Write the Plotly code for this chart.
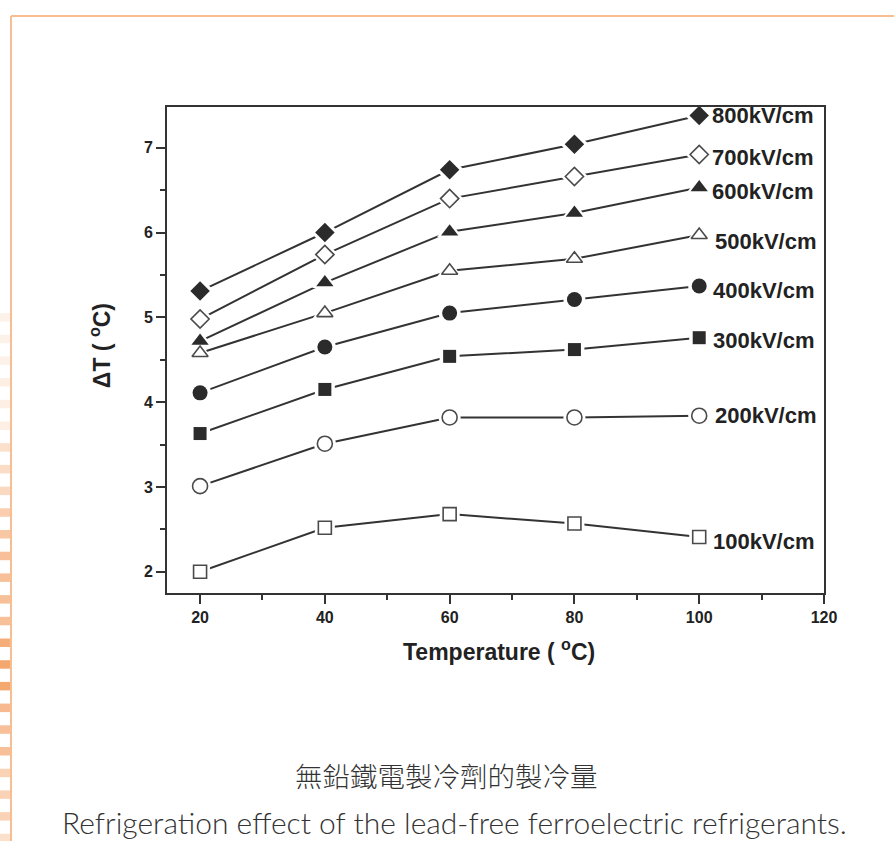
import plotly.graph_objects as go

# ---------------- data ----------------
temperature = [20, 40, 60, 80, 100]
field_labels = ["800kV/cm", "700kV/cm", "600kV/cm", "500kV/cm",
                "400kV/cm", "300kV/cm", "200kV/cm", "100kV/cm"]
dT_800 = [5.31, 6.00, 6.74, 7.04, 7.38]
dT_700 = [4.98, 5.74, 6.40, 6.66, 6.92]
dT_600 = [4.72, 5.41, 6.01, 6.23, 6.53]
dT_500 = [4.58, 5.05, 5.55, 5.69, 5.97]
dT_400 = [4.11, 4.65, 5.05, 5.21, 5.37]
dT_300 = [3.63, 4.15, 4.54, 4.62, 4.76]
dT_200 = [3.01, 3.51, 3.82, 3.82, 3.84]
dT_100 = [2.00, 2.52, 2.68, 2.57, 2.41]
series = [dT_800, dT_700, dT_600, dT_500, dT_400, dT_300, dT_200, dT_100]

x_ticks = [20, 40, 60, 80, 100, 120]
y_ticks = [2, 3, 4, 5, 6, 7]

# ---------------- styles ----------------
DARK = "#2b2b2b"
GRAY = "#4a4a4a"
styles = [
    dict(symbol="diamond", size=15, color=DARK, line=dict(color=DARK, width=0)),
    dict(symbol="diamond", size=14, color="white", line=dict(color=GRAY, width=1.6)),
    dict(symbol="triangle-up", size=15, color=DARK, line=dict(color=DARK, width=0)),
    dict(symbol="triangle-up", size=14, color="white", line=dict(color=GRAY, width=1.6)),
    dict(symbol="circle", size=15, color=DARK, line=dict(color=DARK, width=0)),
    dict(symbol="square", size=13, color=DARK, line=dict(color=DARK, width=0)),
    dict(symbol="circle", size=15, color="white", line=dict(color=GRAY, width=1.6)),
    dict(symbol="square", size=13, color="white", line=dict(color=GRAY, width=1.6)),
]
label_shift = [(11, 0), (11, -3), (11, -4), (14, -6), (12, -5), (12, -3), (14, 0), (12, -4)]

fig = go.Figure()
for ys in series:
    fig.add_trace(go.Scatter(x=temperature, y=ys, mode="lines",
                             line=dict(color="#333333", width=2),
                             showlegend=False, hoverinfo="skip"))
for ys, st in zip(series, styles):
    fig.add_trace(go.Scatter(x=temperature, y=ys, mode="markers",
                             marker=dict(symbol=st["symbol"], size=st["size"] + 7,
                                         color="white", line=dict(width=0)),
                             showlegend=False, hoverinfo="skip"))
for ys, st, name in zip(series, styles, field_labels):
    fig.add_trace(go.Scatter(x=temperature, y=ys, mode="markers", name=name,
                             marker=st, showlegend=False))

annotations = []
for ys, name, (dx, dy) in zip(series, field_labels, label_shift):
    annotations.append(dict(x=temperature[-1], y=ys[-1], xref="x", yref="y",
                            text=name, showarrow=False, xanchor="left",
                            yanchor="middle", xshift=dx, yshift=dy,
                            font=dict(family="Arial", size=22, color="#222222",
                                      weight="bold")))

# axis titles
annotations.append(dict(x=-0.102, y=0.51, xref="paper", yref="paper",
                        text="ΔT ( <sup>o</sup>C)", textangle=-90, showarrow=False,
                        xanchor="center", yanchor="middle",
                        font=dict(family="Arial", size=23, color="#222222", weight="bold")))
annotations.append(dict(x=0.5053, y=-0.117, xref="paper", yref="paper",
                        text="Temperature ( <sup>o</sup>C)", showarrow=False,
                        xanchor="center", yanchor="middle",
                        font=dict(family="Arial", size=23, color="#222222", weight="bold")))
# captions
annotations.append(dict(x=0.426, y=-0.3745, xref="paper", yref="paper",
                        text="無鉛鐵電製冷劑的製冷量", showarrow=False,
                        xanchor="center", yanchor="middle",
                        font=dict(family="Noto Sans CJK TC", size=27.5, color="#333333",
                                  weight=300)))
annotations.append(dict(x=0.438, y=-0.471, xref="paper", yref="paper",
                        text="Refrigeration effect of the lead-free ferroelectric refrigerants.",
                        showarrow=False, xanchor="center", yanchor="middle",
                        font=dict(family="Lato", size=30, color="#333333", weight=300)))

# decorative page frame
L, T, PW, PH = 167, 107, 657, 486
def px(xp):
    return (xp - L) / PW
def py(yp):
    return (T + PH - yp) / PH

shapes = []
stripe_alpha = [0.10, 0.10, 0.10, 0.13, 0.13, 0.13, 0.25, 0.28, 0.30, 0.40, 0.45, 0.50,
                0.50, 0.50, 0.50, 0.65, 0.70, 0.70, 0.55, 0.50, 0.50, 0.35, 0.35, 0.35, 0.25]
for i, a in enumerate(stripe_alpha):
    y0 = 313 + i * 21.7
    shapes.append(dict(type="rect", xref="paper", yref="paper", layer="below",
                       x0=px(0), x1=px(10), y0=py(y0), y1=py(y0 + 8.5),
                       fillcolor=f"rgba(240,130,50,{a})", line=dict(width=0)))
shapes.append(dict(type="line", xref="paper", yref="paper",
                   x0=px(11), x1=px(11), y0=py(16), y1=py(850),
                   line=dict(color="#f9bd92", width=2)))
shapes.append(dict(type="line", xref="paper", yref="paper",
                   x0=px(11), x1=px(900), y0=py(16), y1=py(16),
                   line=dict(color="#f9bd92", width=2)))

axis_common = dict(showline=True, linecolor="#333333", linewidth=2, mirror=True,
                   ticks="outside", tickcolor="#333333", tickwidth=2, ticklen=9,
                   showgrid=False, zeroline=False,
                   tickfont=dict(family="Arial", size=16, color="#222222", weight="bold"))

fig.update_layout(
    width=894, height=841,
    margin=dict(l=L, r=894 - L - PW, t=T, b=841 - T - PH),
    paper_bgcolor="white", plot_bgcolor="white",
    xaxis=dict(range=[14.7, 120], tickvals=x_ticks,
               minor=dict(ticks="outside", dtick=10, tick0=0, ticklen=5,
                          tickwidth=2, tickcolor="#333333", showgrid=False),
               **axis_common),
    yaxis=dict(range=[1.75, 7.48], tickvals=y_ticks,
               minor=dict(ticks="outside", dtick=0.5, tick0=0, ticklen=5,
                          tickwidth=2, tickcolor="#333333", showgrid=False),
               **axis_common),
    annotations=annotations,
    shapes=shapes,
    showlegend=False,
)

fig.write_html("out.html", config={"displayModeBar": False},
               post_script="document.body.style.margin='0';"
                           "document.body.style.overflow='hidden';")
